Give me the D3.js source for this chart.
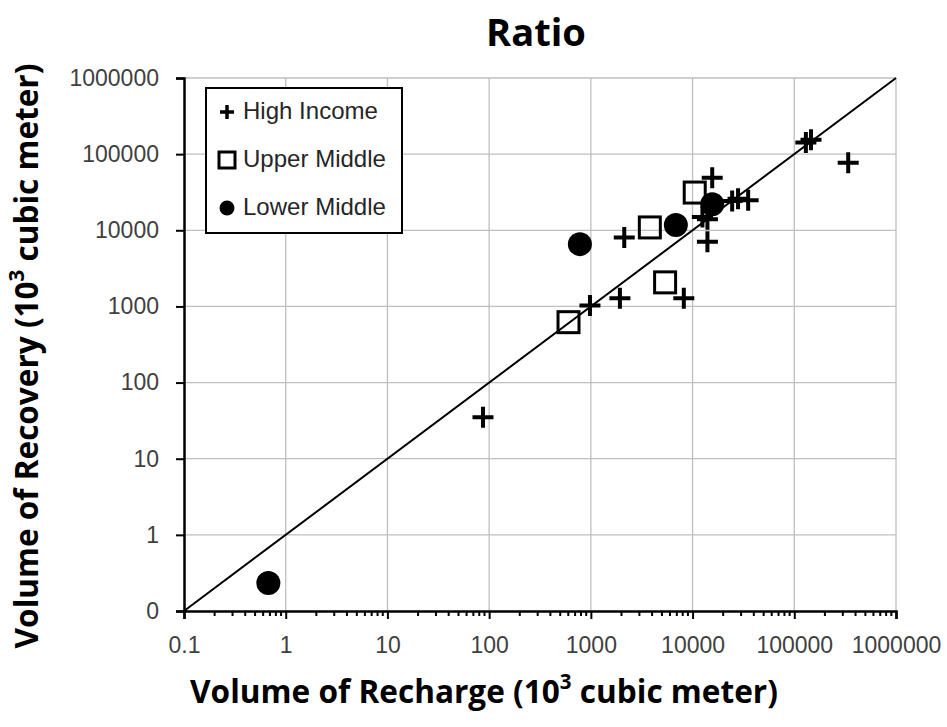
<!DOCTYPE html>
<html>
<head>
<meta charset="utf-8">
<script src="https://cdn.jsdelivr.net/npm/d3@7"></script>
<style>
  body { margin: 0; background: #fff; }
</style>
</head>
<body>
<div id="chart"></div>
<script>
// High income (recharge, recovery)
const highIncome = [
  [130000, 142000], [146000, 155000], [339000, 77000], [15600, 49000],
  [24500, 24300], [28000, 26000], [35200, 24800], [12500, 15000],
  [14000, 14000], [14000, 7050], [2130, 8050], [1930, 1280],
  [8200, 1280], [980, 1030], [87, 35]
];
// Upper middle
const upperMiddle = [
  [10500, 31300], [3800, 10900], [5370, 2070], [603, 621]
];
// Lower middle
const lowerMiddle = [
  [780, 6580], [6850, 11700], [15600, 22000], [0.675, 0.233]
];
const tickValues = [0.1, 1, 10, 100, 1000, 10000, 100000, 1000000];
const xTickLabels = ['0.1', '1', '10', '100', '1000', '10000', '100000', '1000000'];
const yTickLabels = ['0', '1', '10', '100', '1000', '10000', '100000', '1000000'];
const legendItems = ['High Income', 'Upper Middle', 'Lower Middle'];

const width = 947, height = 727;
const margin = { top: 78, right: 51, bottom: 116, left: 184 };
const w = width - margin.left - margin.right;
const h = height - margin.top - margin.bottom;

const svg = d3.select('#chart').append('svg')
  .attr('width', width).attr('height', height);

const g = svg.append('g').attr('transform', `translate(${margin.left},${margin.top})`);

const x = d3.scaleLog().domain([0.1, 1000000]).range([0, w]);
const y = d3.scaleLog().domain([0.1, 1000000]).range([h, 0]);

// gridlines
g.selectAll('.vgrid').data(tickValues.slice(1)).enter().append('line')
  .attr('x1', (d) => x(d)).attr('x2', (d) => x(d))
  .attr('y1', 0).attr('y2', h)
  .attr('stroke', '#bfbfbf').attr('stroke-width', 1.3);
g.selectAll('.hgrid').data(tickValues.slice(1)).enter().append('line')
  .attr('x1', 0).attr('x2', w)
  .attr('y1', (d) => y(d)).attr('y2', (d) => y(d))
  .attr('stroke', '#bfbfbf').attr('stroke-width', 1.3);

// minor ticks on x axis
const minor = [];
for (let e = -1; e < 6; e++) {
  for (let m = 2; m <= 9; m++) minor.push(m * Math.pow(10, e));
}
g.selectAll('.minor').data(minor).enter().append('line')
  .attr('x1', (d) => x(d)).attr('x2', (d) => x(d))
  .attr('y1', h).attr('y2', h + 5)
  .attr('stroke', '#000').attr('stroke-width', 2);

const tickFont = "'Liberation Sans', Arial, sans-serif";

// x axis
const xAxis = g.append('g').attr('transform', `translate(0,${h})`)
  .call(d3.axisBottom(x).tickValues(tickValues).tickSize(8).tickPadding(18)
    .tickFormat((d, i) => xTickLabels[i]));
xAxis.select('.domain').attr('stroke-width', 2.5);
xAxis.selectAll('.tick line').attr('stroke-width', 2);
xAxis.selectAll('text').style('font-size', '23px').style('fill', '#404040')
  .style('font-family', tickFont);

// y axis
const yAxis = g.append('g')
  .call(d3.axisLeft(y).tickValues(tickValues).tickSize(8).tickSizeOuter(8).tickPadding(17)
    .tickFormat((d, i) => yTickLabels[i]));
yAxis.select('.domain').attr('stroke-width', 2.5);
yAxis.selectAll('.tick line').attr('stroke-width', 2);
yAxis.selectAll('text').style('font-size', '23px').style('fill', '#404040')
  .style('font-family', tickFont);

// 1:1 line
g.append('line')
  .attr('x1', x(0.1)).attr('y1', y(0.1))
  .attr('x2', x(1000000)).attr('y2', y(1000000))
  .attr('stroke', '#000').attr('stroke-width', 2);

// markers
function cross(sel, s, sw) {
  sel.append('path')
    .attr('d', `M${-s},0H${s}M0,${-s}V${s}`)
    .attr('stroke', '#000').attr('stroke-width', sw).attr('fill', 'none');
}

g.selectAll('.sq').data(upperMiddle).enter().append('rect')
  .attr('x', (d) => x(d[0]) - 10.5).attr('y', (d) => y(d[1]) - 10.5)
  .attr('width', 21).attr('height', 21)
  .attr('fill', 'none').attr('stroke', '#000').attr('stroke-width', 3);

g.selectAll('.hi').data(highIncome).enter().append('g')
  .attr('transform', (d) => `translate(${x(d[0])},${y(d[1])})`)
  .each(function () { cross(d3.select(this), 10.5, 4); });

g.selectAll('.lm').data(lowerMiddle).enter().append('circle')
  .attr('cx', (d) => x(d[0])).attr('cy', (d) => y(d[1]))
  .attr('r', 12).attr('fill', '#000');

// titles
const titleFont = "'Open Sans', 'Noto Sans', sans-serif";
function fitText(t, target) {
  const len = t.node().getComputedTextLength();
  const fs = parseFloat(t.attr('font-size'));
  const size = fs * target / len;
  t.attr('font-size', size);
  return size;
}

// legend
const lg = svg.append('g').attr('transform', 'translate(206,88)');
lg.append('rect').attr('width', 196).attr('height', 145)
  .attr('fill', '#fff').attr('stroke', '#000').attr('stroke-width', 2);
let legendSize = 18;
legendItems.forEach((name, i) => {
  const cy = 24 + i * 48;
  const item = lg.append('g').attr('transform', `translate(21,${cy})`);
  if (i === 0) cross(item, 7, 3.5);
  if (i === 1) item.append('rect').attr('x', -8).attr('y', -8).attr('width', 16).attr('height', 16)
    .attr('fill', 'none').attr('stroke', '#000').attr('stroke-width', 3);
  if (i === 2) item.append('circle').attr('r', 7.5).attr('fill', '#000');
  const t = lg.append('text').attr('x', 37).attr('y', cy + 7)
    .attr('font-size', legendSize).attr('fill', '#262626')
    .attr('font-family', tickFont)
    .text(name);
  if (i === 0) legendSize = fitText(t, 135);
});

const title = svg.append('text').attr('x', 536).attr('y', 46)
  .attr('text-anchor', 'middle').attr('font-size', 30).attr('font-weight', 'bold')
  .attr('font-family', titleFont)
  .text('Ratio');
fitText(title, 100);

const xt = svg.append('text').attr('x', 484).attr('y', 703)
  .attr('text-anchor', 'middle').attr('font-size', 24).attr('font-weight', 'bold')
  .attr('font-family', titleFont);
xt.append('tspan').text('Volume of Recharge (10');
xt.append('tspan').attr('baseline-shift', 'super').attr('font-size', '65%').text('3');
xt.append('tspan').text(' cubic meter)');
fitText(xt, 588);

const yt = svg.append('text')
  .attr('transform', 'translate(38,356) rotate(-90)')
  .attr('text-anchor', 'middle').attr('font-size', 24).attr('font-weight', 'bold')
  .attr('font-family', titleFont);
yt.append('tspan').text('Volume of Recovery (10');
yt.append('tspan').attr('baseline-shift', 'super').attr('font-size', '65%').text('3');
yt.append('tspan').text(' cubic meter)');
fitText(yt, 585);
</script>
</body>
</html>
